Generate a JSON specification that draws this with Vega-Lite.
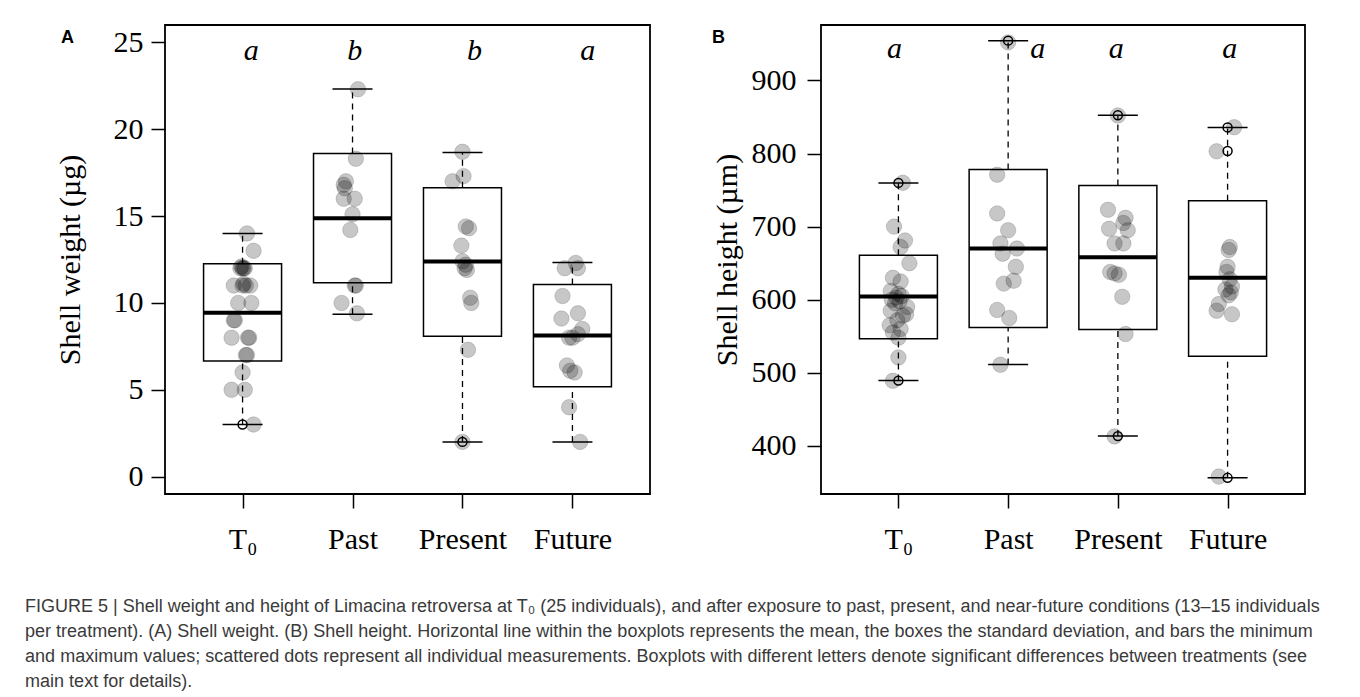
{
  "$schema": "https://vega.github.io/schema/vega-lite/v6.json",
  "background": "white",
  "padding": {"left": 25, "top": 24, "right": 0, "bottom": 0},
  "config": {
    "view": {"stroke": "black", "strokeWidth": 1.8},
    "font": "Liberation Serif",
    "axis": {
      "grid": false, "domain": false,
      "labelFont": "Liberation Serif", "labelFontSize": 30, "labelColor": "black",
      "titleFont": "Liberation Serif", "titleFontSize": 30, "titleFontWeight": "normal", "titleColor": "black",
      "tickColor": "black", "tickWidth": 1.5, "tickSize": 14,
      "labelFlush": false, "labelOverlap": false, "labelBound": false
    }
  },
  "title": {
    "text": [
      "FIGURE 5 | Shell weight and height of Limacina retroversa at T₀ (25 individuals), and after exposure to past, present, and near-future conditions (13–15 individuals",
      "per treatment). (A) Shell weight. (B) Shell height. Horizontal line within the boxplots represents the mean, the boxes the standard deviation, and bars the minimum",
      "and maximum values; scattered dots represent all individual measurements. Boxplots with different letters denote significant differences between treatments (see",
      "main text for details)."
    ],
    "orient": "bottom", "anchor": "start", "font": "Liberation Sans", "fontSize": 18,
    "fontWeight": "normal", "color": "#3a3a3a", "lineHeight": 25, "offset": 43, "dx": -29
  },
  "datasets": {
    "statsA": [
      {"g": 1, "mean": 9.43, "lo": 6.66, "hi": 12.25, "min": 3.0, "max": 14.0},
      {"g": 2, "mean": 14.88, "lo": 11.16, "hi": 18.6, "min": 9.35, "max": 22.31},
      {"g": 3, "mean": 12.38, "lo": 8.08, "hi": 16.63, "min": 2.0, "max": 18.66},
      {"g": 4, "mean": 8.12, "lo": 5.18, "hi": 11.06, "min": 2.0, "max": 12.33}
    ],
    "statsB": [
      {"g": 1, "mean": 604.3, "lo": 546.7, "hi": 660.8, "min": 489.3, "max": 759.8},
      {"g": 2, "mean": 670.0, "lo": 561.9, "hi": 778.1, "min": 511.4, "max": 954.4},
      {"g": 3, "mean": 658.1, "lo": 559.2, "hi": 756.1, "min": 413.4, "max": 852.3},
      {"g": 4, "mean": 630.1, "lo": 522.8, "hi": 735.4, "min": 356.3, "max": 835.7}
    ],
    "circA": [
      {"g": 1, "v": 3.0}, {"g": 3, "v": 2.0}
    ],
    "circB": [
      {"g": 1, "v": 759.8}, {"g": 1, "v": 489.3}, {"g": 2, "v": 954.4}, {"g": 3, "v": 852.3},
      {"g": 3, "v": 413.4}, {"g": 4, "v": 835.7}, {"g": 4, "v": 803.4}, {"g": 4, "v": 356.3}
    ],
    "letA": [
      {"x": 1.08, "v": 24.0, "lab": "a"}, {"x": 2.02, "v": 24.0, "lab": "b"},
      {"x": 3.11, "v": 24.0, "lab": "b"}, {"x": 4.14, "v": 24.0, "lab": "a"}
    ],
    "letB": [
      {"x": 0.965, "v": 931, "lab": "a"}, {"x": 2.27, "v": 931, "lab": "a"},
      {"x": 2.985, "v": 931, "lab": "a"}, {"x": 4.02, "v": 931, "lab": "a"}
    ],
    "dotsA": [
      {"x": 1.04, "v": 14.0}, {"x": 1.10, "v": 13.0},
      {"x": 1.0, "v": 12.0}, {"x": 1.02, "v": 12.0}, {"x": 0.98, "v": 12.0}, {"x": 1.01, "v": 12.0}, {"x": 0.99, "v": 12.1},
      {"x": 0.92, "v": 11.0}, {"x": 1.0, "v": 11.0}, {"x": 1.03, "v": 11.0}, {"x": 1.07, "v": 11.0}, {"x": 1.01, "v": 11.1},
      {"x": 0.96, "v": 10.0}, {"x": 1.08, "v": 10.0},
      {"x": 0.93, "v": 9.0}, {"x": 0.92, "v": 9.0},
      {"x": 0.90, "v": 8.0}, {"x": 1.05, "v": 8.0}, {"x": 1.06, "v": 8.0},
      {"x": 1.03, "v": 7.0}, {"x": 1.04, "v": 7.0},
      {"x": 1.0, "v": 6.0},
      {"x": 0.90, "v": 5.0}, {"x": 1.02, "v": 5.0},
      {"x": 1.10, "v": 3.0},
      {"x": 2.05, "v": 22.3}, {"x": 2.03, "v": 18.3}, {"x": 1.94, "v": 17.0}, {"x": 1.92, "v": 16.8},
      {"x": 1.93, "v": 16.6}, {"x": 1.92, "v": 16.0}, {"x": 2.02, "v": 16.0}, {"x": 2.0, "v": 15.1},
      {"x": 1.98, "v": 14.2}, {"x": 2.02, "v": 11.0}, {"x": 2.03, "v": 11.0}, {"x": 1.90, "v": 10.0},
      {"x": 2.04, "v": 9.4},
      {"x": 3.0, "v": 18.7}, {"x": 3.01, "v": 17.3}, {"x": 2.91, "v": 17.0}, {"x": 3.03, "v": 14.4},
      {"x": 3.06, "v": 14.3}, {"x": 2.99, "v": 13.3}, {"x": 3.0, "v": 12.4}, {"x": 3.03, "v": 12.2},
      {"x": 3.02, "v": 12.0}, {"x": 3.04, "v": 11.9}, {"x": 3.07, "v": 10.3}, {"x": 3.08, "v": 10.0},
      {"x": 3.05, "v": 7.3}, {"x": 3.0, "v": 2.0},
      {"x": 4.03, "v": 12.3}, {"x": 3.93, "v": 12.0}, {"x": 4.05, "v": 12.0}, {"x": 3.91, "v": 10.4},
      {"x": 4.05, "v": 9.4}, {"x": 3.90, "v": 9.1}, {"x": 4.09, "v": 8.5}, {"x": 4.05, "v": 8.2},
      {"x": 3.97, "v": 8.0}, {"x": 4.0, "v": 8.0}, {"x": 3.95, "v": 6.4}, {"x": 3.98, "v": 6.1},
      {"x": 4.02, "v": 6.0}, {"x": 3.97, "v": 4.0}, {"x": 4.07, "v": 2.0}
    ],
    "dotsB": [
      {"x": 1.04, "v": 760}, {"x": 0.96, "v": 700}, {"x": 1.06, "v": 681}, {"x": 1.02, "v": 672},
      {"x": 1.10, "v": 650}, {"x": 0.95, "v": 630}, {"x": 1.02, "v": 625}, {"x": 0.93, "v": 612},
      {"x": 1.0, "v": 608}, {"x": 1.03, "v": 605}, {"x": 0.98, "v": 603}, {"x": 0.94, "v": 600},
      {"x": 1.01, "v": 598}, {"x": 0.97, "v": 595}, {"x": 1.08, "v": 590}, {"x": 0.93, "v": 585},
      {"x": 1.07, "v": 580}, {"x": 1.04, "v": 578}, {"x": 0.99, "v": 572}, {"x": 0.92, "v": 565},
      {"x": 1.02, "v": 560}, {"x": 0.95, "v": 555}, {"x": 1.0, "v": 548}, {"x": 1.0, "v": 521},
      {"x": 0.95, "v": 489},
      {"x": 2.0, "v": 952}, {"x": 1.90, "v": 771}, {"x": 1.90, "v": 718}, {"x": 2.0, "v": 695},
      {"x": 1.93, "v": 677}, {"x": 2.08, "v": 670}, {"x": 1.95, "v": 663}, {"x": 2.07, "v": 645},
      {"x": 2.05, "v": 626}, {"x": 1.96, "v": 622}, {"x": 1.90, "v": 586}, {"x": 2.01, "v": 575},
      {"x": 1.93, "v": 511},
      {"x": 3.0, "v": 852}, {"x": 2.91, "v": 723}, {"x": 3.07, "v": 712}, {"x": 3.05, "v": 705},
      {"x": 2.92, "v": 697}, {"x": 3.09, "v": 695}, {"x": 2.97, "v": 677}, {"x": 3.05, "v": 677},
      {"x": 2.93, "v": 638}, {"x": 2.97, "v": 636}, {"x": 3.01, "v": 634}, {"x": 3.04, "v": 604},
      {"x": 3.07, "v": 553}, {"x": 2.97, "v": 413},
      {"x": 4.06, "v": 836}, {"x": 3.90, "v": 803}, {"x": 4.02, "v": 672}, {"x": 4.01, "v": 668},
      {"x": 4.0, "v": 645}, {"x": 3.99, "v": 638}, {"x": 4.02, "v": 628}, {"x": 4.04, "v": 618},
      {"x": 3.98, "v": 614}, {"x": 4.03, "v": 610}, {"x": 4.01, "v": 606}, {"x": 3.92, "v": 594},
      {"x": 3.90, "v": 585}, {"x": 4.04, "v": 580}, {"x": 3.92, "v": 358}
    ]
  },
  "spacing": 60,
  "hconcat": [
    {
      "width": 485, "height": 469,
      "title": {"text": "A", "anchor": "start", "frame": "bounds", "font": "Liberation Sans", "fontSize": 18, "fontWeight": "bold", "color": "black", "baseline": "top", "offset": 0, "dx": 6, "dy": 21.5},
      "layer": [
        {
          "data": {"name": "statsA"},
          "mark": {"type": "bar", "size": 78, "fill": "white", "stroke": "black", "strokeWidth": 1.5, "opacity": 1},
          "encoding": {
            "x": {"field": "g", "type": "quantitative", "scale": {"domain": [0.34, 4.66], "nice": false, "zero": false},
                  "axis": {"values": [1, 2, 3, 4], "labelExpr": "['', 'T₀', 'Past', 'Present', 'Future'][datum.value]", "title": null, "labelPadding": 16}},
            "y": {"field": "lo", "type": "quantitative", "scale": {"domain": [-1, 26], "nice": false, "zero": false},
                  "axis": {"values": [0, 5, 10, 15, 20, 25], "title": "Shell weight (µg)", "labelPadding": 8, "titlePadding": 28}},
            "y2": {"field": "hi"}
          }
        },
        {
          "data": {"name": "statsA"},
          "mark": {"type": "rule", "color": "black", "strokeWidth": 1.3, "strokeDash": [6, 5], "opacity": 1},
          "encoding": {"x": {"field": "g", "type": "quantitative"}, "y": {"field": "hi", "type": "quantitative"}, "y2": {"field": "max"}}
        },
        {
          "data": {"name": "statsA"},
          "mark": {"type": "rule", "color": "black", "strokeWidth": 1.3, "strokeDash": [6, 5], "opacity": 1},
          "encoding": {"x": {"field": "g", "type": "quantitative"}, "y": {"field": "min", "type": "quantitative"}, "y2": {"field": "lo"}}
        },
        {
          "data": {"name": "statsA"},
          "mark": {"type": "tick", "orient": "horizontal", "size": 40, "thickness": 1.5, "color": "black", "opacity": 1},
          "encoding": {"x": {"field": "g", "type": "quantitative"}, "y": {"field": "max", "type": "quantitative"}}
        },
        {
          "data": {"name": "statsA"},
          "mark": {"type": "tick", "orient": "horizontal", "size": 40, "thickness": 1.5, "color": "black", "opacity": 1},
          "encoding": {"x": {"field": "g", "type": "quantitative"}, "y": {"field": "min", "type": "quantitative"}}
        },
        {
          "data": {"name": "statsA"},
          "mark": {"type": "tick", "orient": "horizontal", "size": 78, "thickness": 4, "color": "black", "opacity": 1},
          "encoding": {"x": {"field": "g", "type": "quantitative"}, "y": {"field": "mean", "type": "quantitative"}}
        },
        {
          "data": {"name": "dotsA"},
          "mark": {"type": "point", "shape": "circle", "filled": true, "size": 240, "opacity": 1, "fill": "black", "fillOpacity": 0.22, "stroke": "black", "strokeOpacity": 0.15, "strokeWidth": 1},
          "encoding": {"x": {"field": "x", "type": "quantitative"}, "y": {"field": "v", "type": "quantitative"}}
        },
        {
          "data": {"name": "circA"},
          "mark": {"type": "point", "shape": "circle", "filled": false, "size": 80, "stroke": "black", "strokeWidth": 1.5, "opacity": 1},
          "encoding": {"x": {"field": "g", "type": "quantitative"}, "y": {"field": "v", "type": "quantitative"}}
        },
        {
          "data": {"name": "letA"},
          "mark": {"type": "text", "font": "Liberation Serif", "fontSize": 30, "fontStyle": "italic", "baseline": "alphabetic", "align": "center", "color": "black"},
          "encoding": {"x": {"field": "x", "type": "quantitative"}, "y": {"field": "v", "type": "quantitative"}, "text": {"field": "lab"}}
        }
      ]
    },
    {
      "width": 484, "height": 469,
      "title": {"text": "B", "anchor": "start", "frame": "bounds", "font": "Liberation Sans", "fontSize": 18, "fontWeight": "bold", "color": "black", "baseline": "top", "offset": 0, "dx": 0, "dy": 21.5},
      "layer": [
        {
          "data": {"name": "statsB"},
          "mark": {"type": "bar", "size": 78, "fill": "white", "stroke": "black", "strokeWidth": 1.5, "opacity": 1},
          "encoding": {
            "x": {"field": "g", "type": "quantitative", "scale": {"domain": [0.34, 4.66], "nice": false, "zero": false},
                  "axis": {"values": [1, 2, 3, 4], "labelExpr": "['', 'T₀', 'Past', 'Present', 'Future'][datum.value]", "title": null, "labelPadding": 16}},
            "y": {"field": "lo", "type": "quantitative", "scale": {"domain": [334.2, 975.8], "nice": false, "zero": false},
                  "axis": {"values": [400, 500, 600, 700, 800, 900], "title": "Shell height (µm)", "labelPadding": 11, "titlePadding": 9}},
            "y2": {"field": "hi"}
          }
        },
        {
          "data": {"name": "statsB"},
          "mark": {"type": "rule", "color": "black", "strokeWidth": 1.3, "strokeDash": [6, 5], "opacity": 1},
          "encoding": {"x": {"field": "g", "type": "quantitative"}, "y": {"field": "hi", "type": "quantitative"}, "y2": {"field": "max"}}
        },
        {
          "data": {"name": "statsB"},
          "mark": {"type": "rule", "color": "black", "strokeWidth": 1.3, "strokeDash": [6, 5], "opacity": 1},
          "encoding": {"x": {"field": "g", "type": "quantitative"}, "y": {"field": "min", "type": "quantitative"}, "y2": {"field": "lo"}}
        },
        {
          "data": {"name": "statsB"},
          "mark": {"type": "tick", "orient": "horizontal", "size": 40, "thickness": 1.5, "color": "black", "opacity": 1},
          "encoding": {"x": {"field": "g", "type": "quantitative"}, "y": {"field": "max", "type": "quantitative"}}
        },
        {
          "data": {"name": "statsB"},
          "mark": {"type": "tick", "orient": "horizontal", "size": 40, "thickness": 1.5, "color": "black", "opacity": 1},
          "encoding": {"x": {"field": "g", "type": "quantitative"}, "y": {"field": "min", "type": "quantitative"}}
        },
        {
          "data": {"name": "statsB"},
          "mark": {"type": "tick", "orient": "horizontal", "size": 78, "thickness": 4, "color": "black", "opacity": 1},
          "encoding": {"x": {"field": "g", "type": "quantitative"}, "y": {"field": "mean", "type": "quantitative"}}
        },
        {
          "data": {"name": "dotsB"},
          "mark": {"type": "point", "shape": "circle", "filled": true, "size": 240, "opacity": 1, "fill": "black", "fillOpacity": 0.22, "stroke": "black", "strokeOpacity": 0.15, "strokeWidth": 1},
          "encoding": {"x": {"field": "x", "type": "quantitative"}, "y": {"field": "v", "type": "quantitative"}}
        },
        {
          "data": {"name": "circB"},
          "mark": {"type": "point", "shape": "circle", "filled": false, "size": 80, "stroke": "black", "strokeWidth": 1.5, "opacity": 1},
          "encoding": {"x": {"field": "g", "type": "quantitative"}, "y": {"field": "v", "type": "quantitative"}}
        },
        {
          "data": {"name": "letB"},
          "mark": {"type": "text", "font": "Liberation Serif", "fontSize": 30, "fontStyle": "italic", "baseline": "alphabetic", "align": "center", "color": "black"},
          "encoding": {"x": {"field": "x", "type": "quantitative"}, "y": {"field": "v", "type": "quantitative"}, "text": {"field": "lab"}}
        }
      ]
    }
  ]
}
